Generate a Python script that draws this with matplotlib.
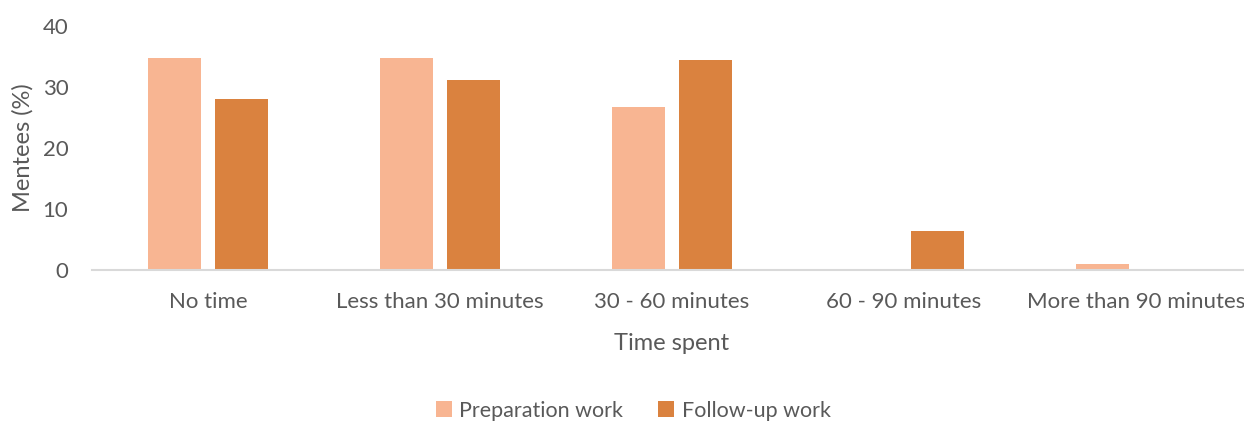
import matplotlib
matplotlib.use("Agg")
import matplotlib.pyplot as plt
import numpy as np

categories = ["No time", "Less than 30 minutes", "30 - 60 minutes", "60 - 90 minutes", "More than 90 minutes"]
preparation = [34.7, 34.7, 26.7, 0, 1.0]
follow_up = [28.0, 31.2, 34.4, 6.4, 0]
series_names = ["Preparation work", "Follow-up work"]
yticks = [0, 10, 20, 30, 40]

plt.rcParams['font.family'] = ['Lato', 'DejaVu Sans']
gray = "#595959"

fig = plt.figure(figsize=(12.44, 4.21), dpi=100)
ax = fig.add_axes([92/1244, 151/421, 1160/1244, 244/421])

x = np.arange(len(categories))
w = 0.228
off = 0.144
ax.bar(x - off, preparation, width=w, color="#F8B592", label=series_names[0])
ax.bar(x + off, follow_up, width=w, color="#DA823F", label=series_names[1])

ax.set_xlim(-0.5, len(categories) - 0.5)
ax.set_ylim(0, 40)
ax.set_yticks(yticks)
ax.set_xticks(x)
ax.set_xticklabels(categories, fontsize=16, color=gray)
ax.tick_params(axis='y', labelsize=16, labelcolor=gray, length=0, pad=17)
ax.tick_params(axis='x', length=0, pad=16)
for s in ["top", "right", "left"]:
    ax.spines[s].set_visible(False)
ax.spines["bottom"].set_color("#d9d9d9")
ax.spines["bottom"].set_linewidth(1.5)

ax.set_ylabel("Mentees (%)", fontsize=17, color=gray)
ax.yaxis.set_label_coords(-0.05, 0.5)
ax.set_xlabel("Time spent", fontsize=17, color=gray, labelpad=15)

fig.legend(loc="lower center", bbox_to_anchor=(0.509, -0.045), ncol=2, frameon=False,
           fontsize=15.5, labelcolor=gray, handlelength=0.75, handleheight=0.75,
           handletextpad=0.35, columnspacing=1.6)

fig.savefig("out.png", dpi=100)
